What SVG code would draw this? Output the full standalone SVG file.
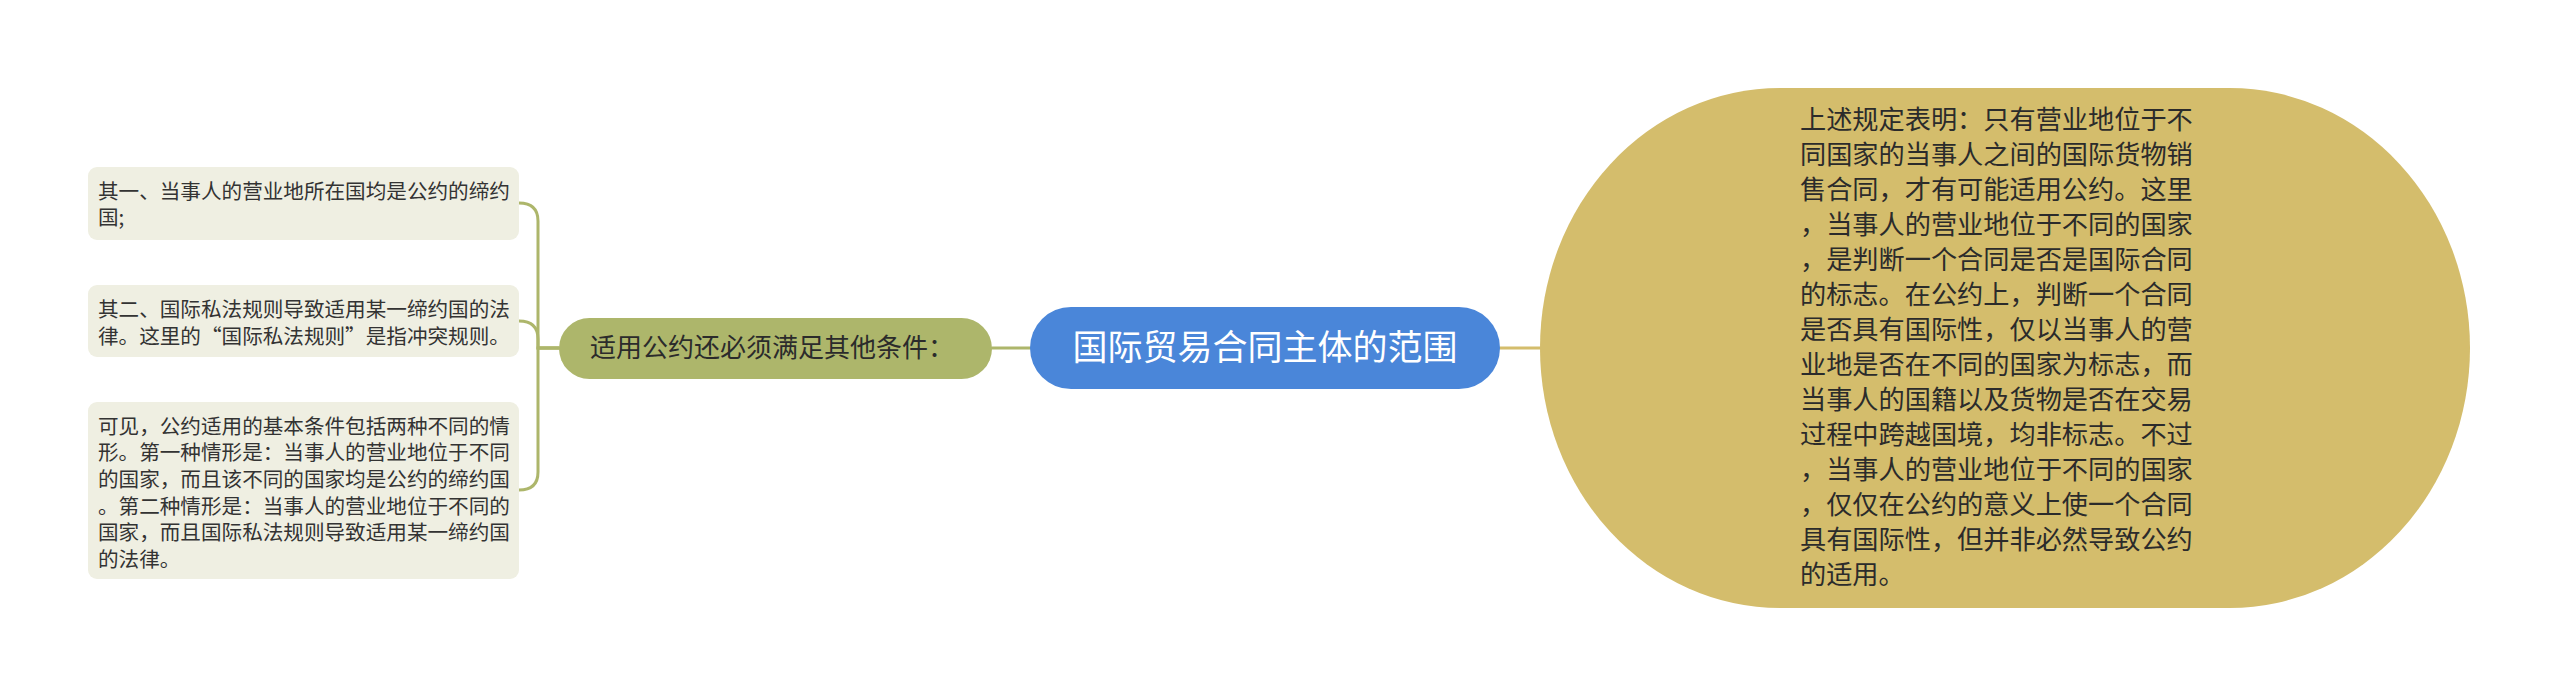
<svg xmlns="http://www.w3.org/2000/svg" width="2560" height="697" viewBox="0 0 2560 697">
<style>
text{font-family:"Noto Sans CJK SC","Noto Sans",sans-serif;}
.leaf rect{fill:#efefe2;}
.leaf text{font-size:20.6px;fill:#333333;}
.conn{fill:none;stroke-width:3;stroke-linecap:round;}
.olive{stroke:#adb66b;}
.tan{stroke:#d4bd6c;}
.big text{font-size:26.2px;fill:#2b2b2b;}
</style>
<rect x="0" y="0" width="2560" height="697" fill="#ffffff"/>
<g id="connectors">
<path class="conn olive" d="M 559 348 H 538 V 221 Q 538 203 519 203"/>
<path class="conn olive" d="M 559 348 H 538 V 339 Q 538 321 519 321"/>
<path class="conn olive" d="M 559 348 H 538 V 472 Q 538 490 519 490"/>
<path class="conn olive" d="M 992 348 H 1030"/>
<path class="conn tan" d="M 1500 348 H 1540"/>
</g>
<g id="node-root">
<rect x="1030" y="307" width="470" height="82" rx="41" ry="41" fill="#4a86d9"/>
<text x="1265" y="360" font-size="35" fill="#ffffff" text-anchor="middle">国际贸易合同主体的范围</text>
</g>
<g id="node-conditions">
<rect x="559" y="318" width="433" height="61" rx="30.5" ry="30.5" fill="#adb66b"/>
<text x="590" y="357" font-size="26" fill="#2b2b2b">适用公约还必须满足其他条件：</text>
</g>
<g id="node-leaf1" class="leaf">
<rect x="88" y="167" width="431" height="73" rx="9"/>
<text x="98" y="199">其一、当事人的营业地所在国均是公约的缔约</text>
<text x="98" y="225">国;</text>
</g>
<g id="node-leaf2" class="leaf">
<rect x="88" y="285" width="431" height="72" rx="9"/>
<text x="98" y="317">其二、国际私法规则导致适用某一缔约国的法</text>
<text x="98" y="344">律。这里的“国际私法规则”是指冲突规则。</text>
</g>
<g id="node-leaf3" class="leaf">
<rect x="88" y="402" width="431" height="177" rx="9"/>
<text x="98" y="434">可见，公约适用的基本条件包括两种不同的情</text>
<text x="98" y="460">形。第一种情形是：当事人的营业地位于不同</text>
<text x="98" y="487">的国家，而且该不同的国家均是公约的缔约国</text>
<text x="98" y="514">。第二种情形是：当事人的营业地位于不同的</text>
<text x="98" y="540">国家，而且国际私法规则导致适用某一缔约国</text>
<text x="98" y="567">的法律。</text>
</g>
<g id="node-explanation" class="big">
<rect x="1540" y="88" width="930" height="520" rx="240" ry="260" fill="#d4bd6c"/>
<text x="1800" y="129">上述规定表明：只有营业地位于不</text>
<text x="1800" y="164">同国家的当事人之间的国际货物销</text>
<text x="1800" y="199">售合同，才有可能适用公约。这里</text>
<text x="1800" y="234">，当事人的营业地位于不同的国家</text>
<text x="1800" y="269">，是判断一个合同是否是国际合同</text>
<text x="1800" y="304">的标志。在公约上，判断一个合同</text>
<text x="1800" y="339">是否具有国际性，仅以当事人的营</text>
<text x="1800" y="374">业地是否在不同的国家为标志，而</text>
<text x="1800" y="409">当事人的国籍以及货物是否在交易</text>
<text x="1800" y="444">过程中跨越国境，均非标志。不过</text>
<text x="1800" y="479">，当事人的营业地位于不同的国家</text>
<text x="1800" y="514">，仅仅在公约的意义上使一个合同</text>
<text x="1800" y="549">具有国际性，但并非必然导致公约</text>
<text x="1800" y="584">的适用。</text>
</g>
</svg>
